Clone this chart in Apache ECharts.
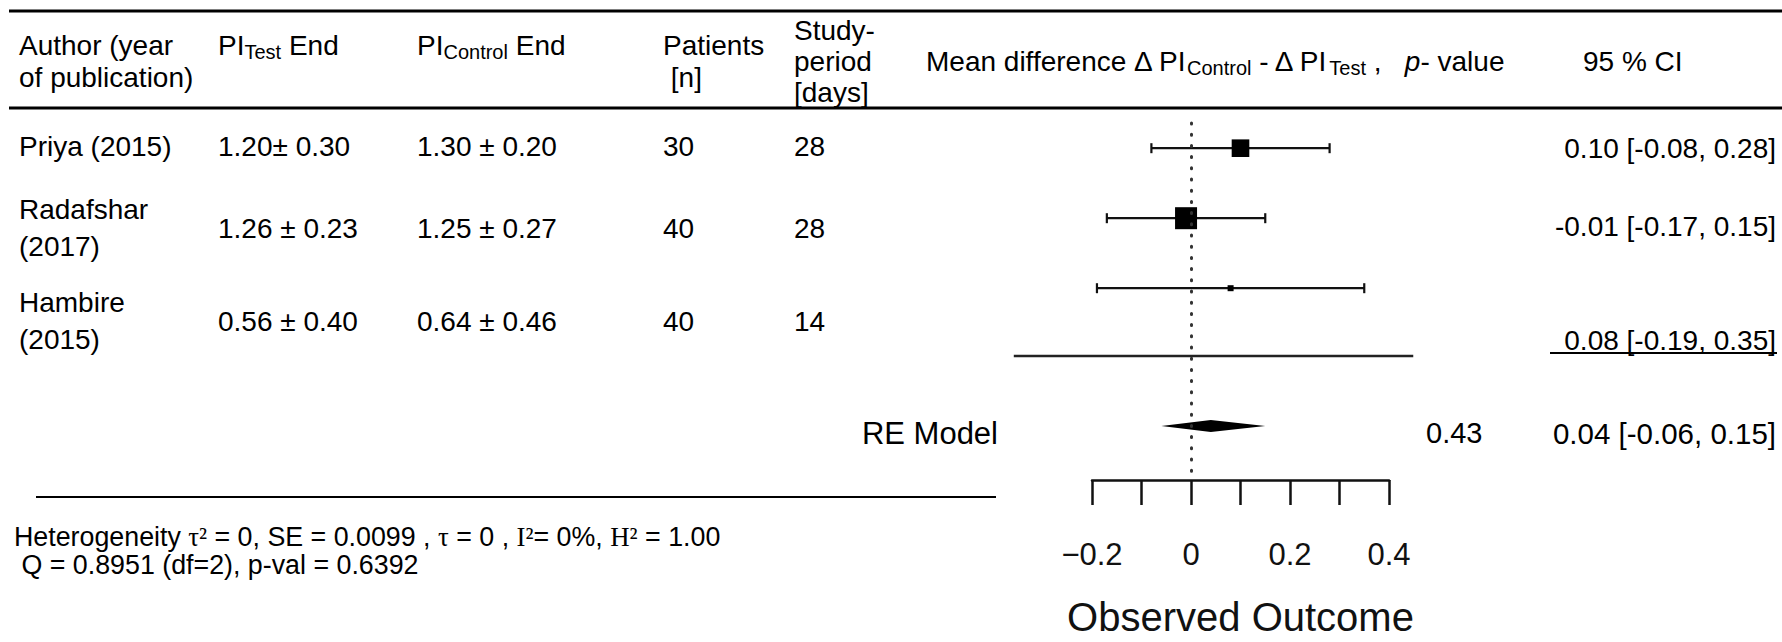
<!DOCTYPE html>
<html><head><meta charset="utf-8">
<script src="https://cdn.jsdelivr.net/npm/echarts@6/dist/echarts.min.js"></script>
<style>html,body{margin:0;padding:0;background:#fff}#c{width:1782px;height:642px}</style>
</head><body><div id="c"></div>
<script>
// ---- data ----
const authors = ['Priya (2015)', 'Radafshar\n(2017)', 'Hambire\n(2015)'];
const piTestEnd = ['1.20\u00b1 0.30', '1.26 \u00b1 0.23', '0.56 \u00b1 0.40'];
const piControlEnd = ['1.30 \u00b1 0.20', '1.25 \u00b1 0.27', '0.64 \u00b1 0.46'];
const patients = [30, 40, 40];
const studyDays = [28, 28, 14];
const meanDiff = [0.10, -0.01, 0.08];
const ciLower = [-0.08, -0.17, -0.19];
const ciUpper = [0.28, 0.15, 0.35];
const reEstimate = 0.04;
const reLower = -0.06;
const reUpper = 0.15;
const rePValue = 0.43;
const xTickValues = [-0.2, 0, 0.2, 0.4];
const xTickLabels = ['\u22120.2', '0', '0.2', '0.4'];
const hetTau2 = '0', hetSE = '0.0099', hetTau = '0', hetI2 = '0%', hetH2 = '1.00';
const hetQ = '0.8951', hetDf = 2, hetP = '0.6392';

// ---- layout ----
const F = 'Liberation Sans, Arial, Helvetica, sans-serif';
const FS = 'Liberation Serif, Times New Roman, serif';
const studyRows = [0, 1, 2];
const sepRow = 2.97, reRow = 3.97;
const plotXLim = [-0.358, 0.449];

function txt(x, y, text, o) {
  o = o || {};
  const al = o.align || 'left';
  const st = {text: text, fill: '#000', fontSize: o.size || 28, fontFamily: F,
    align: al, verticalAlign: 'middle', textAlign: al, textVerticalAlign: 'middle'};
  if (o.lh) st.lineHeight = o.lh;
  if (o.rich) st.rich = o.rich;
  return {type: 'text', x: x, y: y, silent: true, style: st};
}
function hline(x1, x2, y, w) {
  return {type: 'line', silent: true, shape: {x1: x1, y1: y, x2: x2, y2: y}, style: {stroke: '#000', lineWidth: w}};
}
const subRich = {
  n: {fontSize: 28, fontFamily: F, lineHeight: 34},
  s: {fontSize: 20, fontFamily: F, lineHeight: 27, verticalAlign: 'bottom'},
  i: {fontSize: 28, fontFamily: F, lineHeight: 34, fontStyle: 'italic'}
};
const hetSize = 26.8;
const supRich = {
  n: {fontSize: hetSize, fontFamily: F, lineHeight: 26},
  g: {fontSize: hetSize, fontFamily: FS, lineHeight: 26}
};
const fmt = v => v.toFixed(2);

const g = [];
g.push(hline(9, 1782, 11, 3));
g.push(hline(9, 1782, 108, 3));
g.push(txt(19, 61, 'Author (year\nof publication)', {lh: 32}));
g.push(txt(218, 45, '{n|PI}{s|Test}{n| End}', {rich: subRich}));
g.push(txt(417, 45, '{n|PI}{s|Control}{n| End}', {rich: subRich}));
g.push(txt(663, 61, 'Patients\n [n]', {lh: 32}));
g.push(txt(794, 61, 'Study-\nperiod\n[days]', {lh: 31}));
g.push(txt(926, 61, '{n|Mean difference \u0394 PI}{s|Control}{n| - \u0394 PI}{s|Test}{n| ,   }{i|p}{n|- value}', {rich: subRich}));
g.push(txt(1583, 61, '95 % CI'));

const textRowY = [146, 228, 321];
const ciTextY = [148, 226, 340];
for (let i = 0; i < authors.length; i++) {
  const y = textRowY[i];
  g.push(txt(19, y, authors[i], {lh: 37}));
  g.push(txt(218, y, piTestEnd[i]));
  g.push(txt(417, y, piControlEnd[i]));
  g.push(txt(663, y, String(patients[i])));
  g.push(txt(794, y, String(studyDays[i])));
  g.push(txt(1776, ciTextY[i], fmt(meanDiff[i]) + ' [' + fmt(ciLower[i]) + ', ' + fmt(ciUpper[i]) + ']', {align: 'right'}));
}
g.push(hline(1550, 1777, 353, 2));
g.push(txt(998, 433, 'RE Model', {align: 'right', size: 31}));
g.push(txt(1426, 433, fmt(rePValue), {size: 29}));
g.push(txt(1776, 433, fmt(reEstimate) + ' [' + fmt(reLower) + ', ' + fmt(reUpper) + ']', {align: 'right', size: 29.5}));
g.push(hline(36, 996, 497, 2));
g.push(txt(14, 537, '{n|Heterogeneity }{g|\u03c4\u00b2}{n| = ' + hetTau2 + ', SE = ' + hetSE + ' , }{g|\u03c4}{n| = ' + hetTau + ' , }{g|I\u00b2}{n|= ' + hetI2 + ', }{g|H\u00b2}{n| = ' + hetH2 + '}', {size: hetSize, rich: supRich}));
g.push(txt(14, 565, ' Q = ' + hetQ + ' (df=' + hetDf + '), p-val = ' + hetP, {size: hetSize, lh: 26}));

// ---- series data ----
const wi = ciLower.map((lo, i) => 3.92 / (ciUpper[i] - lo));
const wMin = Math.min.apply(null, wi), wMax = Math.max.apply(null, wi);
const squareSize = wi.map(w => 6 + 16 * (w - wMin) / (wMax - wMin));
const studyData = meanDiff.map((m, i) => [m, studyRows[i], ciLower[i], ciUpper[i], squareSize[i]]);

const chart = echarts.init(document.getElementById('c'), null, {renderer: 'svg'});
chart.setOption({
  animation: false,
  backgroundColor: '#fff',
  grid: {left: 1092, top: 123, width: 297, height: 365},
  xAxis: {
    type: 'value', min: -0.2, max: 0.4, interval: 0.1,
    axisLine: {show: true, onZero: false, lineStyle: {color: '#111', width: 2.5}},
    axisTick: {show: true, length: 25, lineStyle: {color: '#111', width: 2.5}},
    splitLine: {show: false},
    axisLabel: {
      margin: 74, fontSize: 31, color: '#111', fontFamily: F, verticalAlign: 'middle',
      formatter: v => { const k = xTickValues.findIndex(t => Math.abs(t - v) < 1e-9); return k < 0 ? '' : xTickLabels[k]; }
    },
    name: 'Observed Outcome', nameLocation: 'middle', nameGap: 137,
    nameTextStyle: {fontSize: 40, color: '#111', fontFamily: F, verticalAlign: 'middle'}
  },
  yAxis: {type: 'value', inverse: true, min: -0.36, max: 4.74, show: false},
  graphic: g,
  series: [
    {
      type: 'line', z: 1, symbol: 'none', silent: true,
      data: [],
      markLine: {
        silent: true, symbol: 'none', label: {show: false},
        lineStyle: {color: '#333', width: 3, type: [1, 10.2], cap: 'round'},
        data: [{xAxis: 0}]
      }
    },
    {
      type: 'custom', z: 3, clip: false, silent: true,
      data: studyData,
      renderItem: (params, api) => {
        const r = api.value(1);
        const pE = api.coord([api.value(0), r]);
        const pL = api.coord([api.value(2), r]);
        const pH = api.coord([api.value(3), r]);
        const s = api.value(4), cap = 5;
        const st = {stroke: '#111', lineWidth: 2.2};
        return {type: 'group', children: [
          {type: 'line', shape: {x1: pL[0], y1: pL[1], x2: pH[0], y2: pH[1]}, style: st},
          {type: 'line', shape: {x1: pL[0], y1: pL[1] - cap, x2: pL[0], y2: pL[1] + cap}, style: st},
          {type: 'line', shape: {x1: pH[0], y1: pH[1] - cap, x2: pH[0], y2: pH[1] + cap}, style: st},
          {type: 'rect', shape: {x: pE[0] - s / 2, y: pE[1] - s / 2, width: s, height: s}, style: {fill: '#000'}}
        ]};
      }
    },
    {
      type: 'custom', z: 3, clip: false, silent: true,
      data: [[reEstimate, reRow, reLower, reUpper]],
      renderItem: (params, api) => {
        const r = api.value(1);
        const pE = api.coord([api.value(0), r]);
        const pL = api.coord([api.value(2), r]);
        const pH = api.coord([api.value(3), r]);
        const h = 6;
        return {type: 'polygon', shape: {points: [pL, [pE[0], pE[1] - h], pH, [pE[0], pE[1] + h]]}, style: {fill: '#000'}};
      }
    }
  ]
});
// separator line spanning the full plot x-limits, placed through the chart's own scales
const sepA = chart.convertToPixel({gridIndex: 0}, [plotXLim[0], sepRow]);
const sepB = chart.convertToPixel({gridIndex: 0}, [plotXLim[1], sepRow]);
g.push({type: 'line', silent: true, z: 2, shape: {x1: sepA[0], y1: sepA[1], x2: sepB[0], y2: sepB[1]}, style: {stroke: '#222', lineWidth: 2.5}});
chart.setOption({graphic: g});
</script></body></html>
